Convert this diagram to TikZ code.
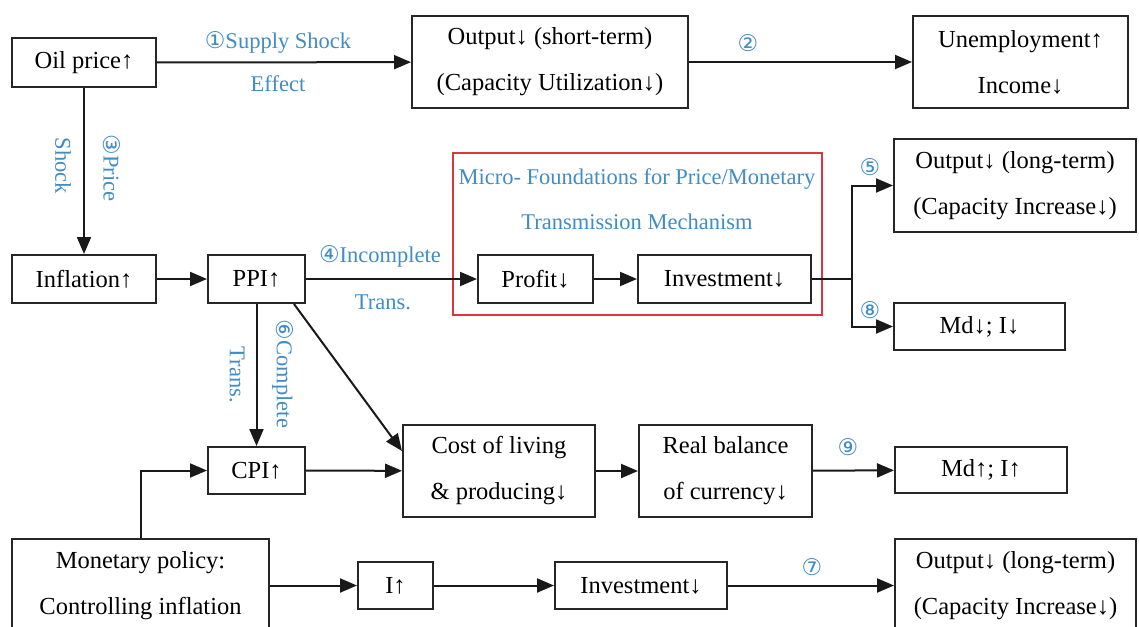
\documentclass[tikz,border=0pt]{standalone}
\usepackage{fontspec}
\setmainfont{Liberation Serif}
\newfontfamily\djv{DejaVu Sans}
\usetikzlibrary{arrows.meta,calc}
\definecolor{lblue}{RGB}{65,140,195}
\definecolor{redbox}{RGB}{220,55,65}
\newcommand{\cn}[1]{{\djv\fontsize{23}{23}\selectfont #1}}
\begin{document}
\begin{tikzpicture}[x=1pt,y=-1pt,
  box/.style={draw=black!85,line width=2pt,inner sep=0pt,align=center,
    font=\fontsize{24.5}{46}\selectfont},
  arr/.style={draw=black!90,line width=2pt,-{Triangle[length=17pt,width=14pt]}},
  ln/.style={draw=black!90,line width=2pt},
  lbl/.style={text=lblue,inner sep=0pt,font=\fontsize{22.5}{30}\selectfont},
  redframe/.style={draw=redbox,line width=1.8pt}]
\useasboundingbox (0,0) rectangle (1139,626);
\clip (0,0) rectangle (1139,626);
\fill[white] (0,0) rectangle (1139,626);

% boxes
\node[box,minimum width=144pt,minimum height=49pt] (oil) at (84,62.5) {Oil price↑};
\node[box,minimum width=276pt,minimum height=92pt] (outs) at (550,62) {Output↓ (short-term)\\(Capacity Utilization↓)};
\node[box,minimum width=215pt,minimum height=92pt] (unemp) at (1020.5,62) {Unemployment↑\\Income↓};
\node[box,minimum width=144pt,minimum height=48pt] (infl) at (84,279) {Inflation↑};
\node[box,minimum width=97pt,minimum height=48pt] (ppi) at (256.5,279) {PPI↑};
\node[box,minimum width=115pt,minimum height=48pt] (profit) at (535.5,279) {Profit↓};
\node[box,minimum width=173pt,minimum height=48pt] (invm) at (724.5,279) {Investment↓};
\node[box,minimum width=242pt,minimum height=93pt] (olong) at (1015,185.5) {Output↓ (long-term)\\(Capacity Increase↓)};
\node[box,minimum width=171pt,minimum height=47pt] (mdd) at (979.5,326.5) {Md↓; I↓};
\node[box,minimum width=97pt,minimum height=47pt] (cpi) at (256.5,470.5) {CPI↑};
\node[box,minimum width=192pt,minimum height=92pt] (cost) at (499,471) {Cost of living\\\& producing↓};
\node[box,minimum width=173pt,minimum height=92pt] (real) at (725.5,471) {Real balance\\of currency↓};
\node[box,minimum width=172pt,minimum height=46pt] (mdu) at (981,470) {Md↑; I↑};
\node[box,minimum width=257pt,minimum height=93pt] (mon) at (140.5,585.5) {Monetary policy:\\Controlling inflation};
\node[box,minimum width=75pt,minimum height=47pt] (iup) at (395.5,585.5) {I↑};
\node[box,minimum width=172pt,minimum height=47pt] (invb) at (641,585.5) {Investment↓};
\node[box,minimum width=241pt,minimum height=93pt] (olong2) at (1015.5,585.5) {Output↓ (long-term)\\(Capacity Increase↓)};

% red frame
\draw[redframe] (453,153) rectangle (822,315);
\node[lbl] (micro1) at (637,179) {Micro- Foundations for Price/Monetary};
\node[lbl] (micro2) at (637,222) {Transmission Mechanism};

% connectors
\draw[arr] (oil) -- (outs);
\draw[arr] (outs) -- (unemp);
\draw[arr] (oil) -- (infl);
\draw[arr] (infl) -- (ppi);
\draw[arr] (ppi) -- (profit);
\draw[arr] (profit) -- (invm);
\coordinate (split) at (852,279);
\draw[ln] (invm.east) -- (split);
\draw[arr] (split) |- (olong.west);
\draw[arr] (split) |- (mdd.west);
\draw[arr] (ppi.south) -- (cpi.north);
\draw[arr] ($(ppi.south east)+(-12,0)$) -- ($(cost.north west)+(0,27)$);
\draw[arr] (cpi) -- (cost);
\draw[arr] (cost) -- (real);
\draw[arr] (real) -- (mdu);
\draw[arr] (mon.north) |- (cpi.west);
\draw[arr] (mon.east) -- (iup.west);
\draw[arr] (iup) -- (invb);
\draw[arr] (invb) -- (olong2.west);

% labels
\node[lbl] (l1a) at (278,42) {\cn{①}Supply Shock};
\node[lbl] (l1b) at (278,84) {Effect};
\node[lbl] (l2) at (748,43) {\cn{②}};
\node[lbl,rotate=-90] (l3a) at (112,168) {\cn{③}Price};
\node[lbl,rotate=-90] (l3b) at (63,166) {Shock};
\node[lbl] (l4a) at (380,256) {\cn{④}Incomplete};
\node[lbl] (l4b) at (383,302) {Trans.};
\node[lbl] (l5) at (870,167) {\cn{⑤}};
\node[lbl,rotate=-90] (l6a) at (283,374) {\cn{⑥}Complete};
\node[lbl,rotate=-90] (l6b) at (237,375) {Trans.};
\node[lbl] (l7) at (812,567) {\cn{⑦}};
\node[lbl] (l8) at (870,310) {\cn{⑧}};
\node[lbl] (l9) at (848,447) {\cn{⑨}};
\end{tikzpicture}
\end{document}
